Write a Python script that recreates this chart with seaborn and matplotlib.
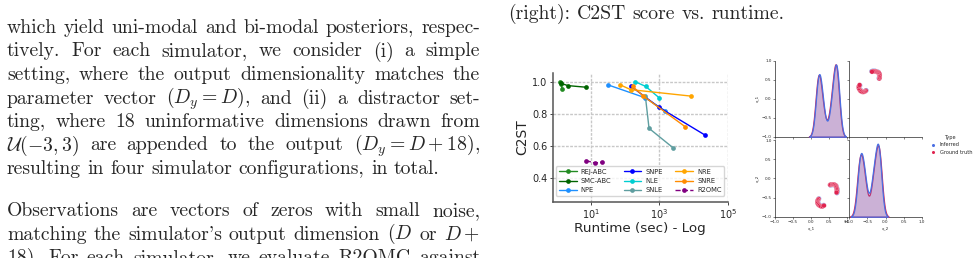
import re
import matplotlib
matplotlib.use("Agg")
import matplotlib.pyplot as plt
import seaborn as sns
import pandas as pd
from matplotlib.lines import Line2D
from matplotlib.ticker import NullLocator

sns.set_style("ticks")
plt.rcParams["font.family"] = ["DejaVu Sans"]
plt.rcParams["mathtext.fontset"] = "cm"

# ---- C2ST vs runtime ----
methods = ["REJ-ABC", "SMC-ABC", "NPE", "SNPE", "NLE", "SNLE", "NRE", "SNRE", "R2OMC"]
colors = ["forestgreen", "darkgreen", "dodgerblue", "blue", "darkturquoise",
          "cadetblue", "orange", "darkorange", "purple"]

rej_abc_t = [1.25, 1.35, 1.42]
rej_abc_c2st = [0.995, 0.985, 0.955]
smc_abc_t = [1.3, 2.1, 7.1]
smc_abc_c2st = [0.99, 0.975, 0.965]
npe_t = [31, 380, 1450]
npe_c2st = [0.98, 0.90, 0.82]
snpe_t = [150, 980, 21000]
snpe_c2st = [0.97, 0.84, 0.67]
nle_t = [190, 400, 980]
nle_c2st = [1.0, 0.97, 0.90]
snle_t = [390, 500, 2500]
snle_c2st = [0.91, 0.71, 0.59]
nre_t = [71, 145, 8300]
nre_c2st = [0.98, 0.95, 0.91]
snre_t = [165, 340, 5700]
snre_c2st = [0.97, 0.91, 0.72]
r2omc_t = [7.1, 13, 21.5]
r2omc_c2st = [0.51, 0.495, 0.50]

runtimes = [rej_abc_t, smc_abc_t, npe_t, snpe_t, nle_t, snle_t, nre_t, snre_t, r2omc_t]
scores = [rej_abc_c2st, smc_abc_c2st, npe_c2st, snpe_c2st, nle_c2st, snle_c2st,
          nre_c2st, snre_c2st, r2omc_c2st]

rows = []
for m, ts, cs in zip(methods, runtimes, scores):
    for t, c in zip(ts, cs):
        rows.append({"method": m, "runtime": t, "c2st": c})
df = pd.DataFrame(rows)

# ---- posterior samples (x_1, x_2) ----
gt_x1 = [0.21, 0.19, 0.18, 0.18, 0.19, 0.21, 0.24, 0.28, 0.32, 0.36,
         0.53, 0.56, 0.60, 0.63, 0.66, 0.69, 0.70, 0.71, 0.72, 0.72, 0.72, 0.71]
gt_x2 = [-0.54, -0.57, -0.60, -0.63, -0.66, -0.69, -0.71, -0.73, -0.73, -0.71,
         -0.17, -0.16, -0.16, -0.16, -0.17, -0.19, -0.22, -0.25, -0.28, -0.31, -0.34, -0.37]
inf_x1 = [0.22, 0.20, 0.19, 0.19, 0.20, 0.22, 0.25, 0.29, 0.33, 0.35,
          0.54, 0.57, 0.61, 0.64, 0.67, 0.70, 0.71, 0.72, 0.73, 0.73, 0.73, 0.72]
inf_x2 = [-0.53, -0.56, -0.59, -0.62, -0.65, -0.68, -0.70, -0.72, -0.72, -0.70,
          -0.18, -0.17, -0.17, -0.17, -0.18, -0.20, -0.23, -0.26, -0.29, -0.32, -0.35, -0.38]

pair_df = pd.DataFrame({
    "x_1": inf_x1 + gt_x1,
    "x_2": inf_x2 + gt_x2,
    "Type": ["Inferred"] * len(inf_x1) + ["Ground truth"] * len(gt_x1),
})
type_order = ["Inferred", "Ground truth"]
pal = {"Inferred": "#4a6fe3", "Ground truth": "#e0244f"}

# ---- page text ----
body_lines = [
    "which yield uni-modal and bi-modal posteriors, respec-",
    "tively.  For each simulator, we consider (i) a simple",
    "setting, where the output dimensionality matches the",
    "parameter vector $(D_y = D)$, and (ii) a distractor set-",
    "ting, where 18 uninformative dimensions drawn from",
    r"$\mathcal{U}(-3,3)$ are appended to the output $(D_y = D + 18)$,",
    "resulting in four simulator configurations, in total.",
    "Observations are vectors of zeros with small noise,",
    "matching the simulator's output dimension $(D$ or $D +$",
    "18).  For each simulator, we evaluate R2OMC against",
]
body_baselines = [33, 56.5, 80, 103.5, 127, 150.5, 174, 216, 239.5, 263]
body_justify = [True, True, True, True, True, True, False, True, True, True]
caption = "(right):  C2ST score vs. runtime."

W, H = 980, 258
fig = plt.figure(figsize=(W / 100, H / 100), dpi=100)


def box(l, t, r, b):
    return [l / W, 1 - b / H, (r - l) / W, (b - t) / H]


renderer = fig.canvas.get_renderer()
serif = ["cmr10", "DejaVu Serif"]
FS = 14.2


def put_line(line, x0, x1, ybase, justify):
    toks = re.findall(r"(?:\$[^$]*\$|\S)+", line)
    texts = [fig.text(0, 1 - ybase / H, tk, fontsize=FS, family=serif,
                      ha="left", va="baseline") for tk in toks]
    widths = [t.get_window_extent(renderer).width for t in texts]
    if justify and len(toks) > 1:
        gap = (x1 - x0 - sum(widths)) / (len(toks) - 1)
    else:
        gap = FS * 100 / 72 * 0.333
    x = x0
    for t, w in zip(texts, widths):
        t.set_x(x / W)
        x += w + gap


for line, yb, j in zip(body_lines, body_baselines, body_justify):
    put_line(line, 7, 480, yb, j)
put_line(caption, 508, 0, 19, False)

# ---- left chart ----
ax = fig.add_axes(box(552.7, 72.7, 727.7, 201.7))
for m, c in zip(methods, colors):
    sns.lineplot(data=df[df["method"] == m], x="runtime", y="c2st", ax=ax,
                 color=c, marker="o", markersize=3.4, markeredgewidth=0,
                 linewidth=1.0, ls="--" if m == "R2OMC" else "-",
                 estimator=None, sort=False, label=m)
ax.set_xscale("log")
ax.set_xlim(0.76, 1e5)
ax.set_ylim(0.255, 1.055)
ax.set_xticks([10, 1e3, 1e5])
ax.xaxis.set_minor_locator(NullLocator())
ax.set_yticks([0.4, 0.6, 0.8, 1.0])
ax.grid(True, color="#c8c8c8", linestyle=(0, (2, 1)), linewidth=1.0)
ax.tick_params(labelsize=7, length=2.5, width=0.6, pad=1.5)
ax.set_xlabel("Runtime (sec) - Log", fontsize=9.7, labelpad=1)
ax.set_ylabel("C2ST", fontsize=10, labelpad=2)
for s in ["top", "right"]:
    ax.spines[s].set_visible(False)
for s in ["left", "bottom"]:
    ax.spines[s].set_color("#555555")
    ax.spines[s].set_linewidth(1.1)
ax.legend(ncol=3, loc="lower left", bbox_to_anchor=(0.0, 0.02, 1.0, 0.3),
          mode="expand", fontsize=4.9, handlelength=2.6, columnspacing=1.2,
          borderpad=0.4, labelspacing=0.45, handletextpad=0.6,
          framealpha=0.8, edgecolor="#cccccc", fancybox=True)

# ---- pair plot ----
pvars = ["x_1", "x_2"]
pboxes = {(0, 0): (775, 60.7, 847, 136.7), (0, 1): (849, 60.7, 922, 136.7),
          (1, 0): (775, 140, 847, 216.7), (1, 1): (849, 140, 922, 216.7)}
ticks = [-1.0, -0.5, 0.0, 0.5, 1.0]
for (i, j), bx in pboxes.items():
    a = fig.add_axes(box(*bx))
    if i == j:
        tw = a.twinx()
        sns.kdeplot(data=pair_df, x=pvars[i], hue="Type", hue_order=type_order,
                    palette=pal, fill=True, bw_adjust=0.65, linewidth=0.9,
                    legend=False, ax=tw)
        tw.yaxis.set_visible(False)
        for s in tw.spines.values():
            s.set_visible(False)
        tw.set_xlabel("")
    else:
        sns.scatterplot(data=pair_df, x=pvars[j], y=pvars[i], hue="Type",
                        hue_order=type_order, palette=pal, s=12, linewidth=0.2,
                        edgecolor="white", legend=False, ax=a)
    a.set_xlim(-1, 1)
    a.set_ylim(-1, 1)
    a.set_xticks(ticks)
    a.set_yticks(ticks)
    a.tick_params(labelsize=3, length=1.5, width=0.4, pad=1,
                  labelbottom=(i == 1), labelleft=(j == 0))
    a.set_xlabel(pvars[j] if i == 1 else "", fontsize=3, labelpad=1.5)
    a.set_ylabel(pvars[i] if j == 0 else "", fontsize=3, labelpad=1.5)
    for s in ["top", "right"]:
        a.spines[s].set_visible(False)
    for s in ["left", "bottom"]:
        a.spines[s].set_linewidth(0.5)

handles = [Line2D([], [], marker="o", ls="", color=pal[t], markersize=2.2,
                  markeredgewidth=0) for t in type_order]
fig.legend(handles, type_order, title="Type", loc="upper left",
           bbox_to_anchor=(923 / W, 1 - 130.5 / H), frameon=False, fontsize=3.6,
           title_fontsize=3.6, handletextpad=0.4, labelspacing=0.5)

fig.savefig("out.png", dpi=100)
